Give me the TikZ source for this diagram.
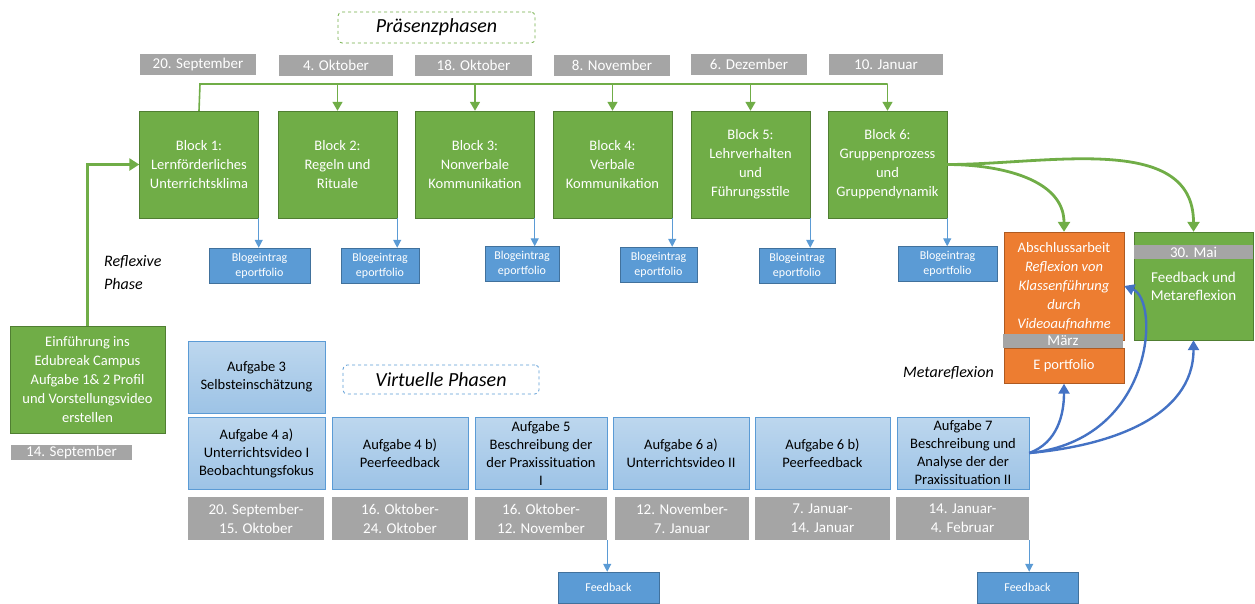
\documentclass[tikz,border=0pt]{standalone}
\usepackage{fontspec}
\setmainfont{Carlito}
\usetikzlibrary{arrows.meta}
\definecolor{grn}{HTML}{70AD47}
\definecolor{grndark}{HTML}{507E32}
\definecolor{blu}{HTML}{5B9BD5}
\definecolor{bludark}{HTML}{41719C}
\definecolor{gry}{HTML}{A5A5A5}
\definecolor{org}{HTML}{ED7D31}
\definecolor{orgdark}{HTML}{AE5A21}
\definecolor{royal}{HTML}{4472C4}
\definecolor{lblue}{HTML}{BDD7EE}
\definecolor{mblue}{HTML}{9DC3E6}

\begin{document}
\begin{tikzpicture}[x=1pt,y=-1pt,
		block/.style={rectangle,draw=grndark,fill=grn,text=white,align=center,inner sep=0pt,
			minimum width=119pt,minimum height=107pt,font=\fontsize{14.5}{19}\selectfont},
		date/.style={rectangle,fill=gry,text=white,align=center,inner sep=0pt,
			minimum height=21pt,font=\fontsize{15}{19}\selectfont},
		blog/.style={rectangle,draw=bludark,fill=blu,text=white,align=center,inner sep=0pt,
			minimum height=35pt,font=\fontsize{12}{15}\selectfont},
		task/.style={rectangle,draw=blu,top color=lblue,bottom color=mblue,align=center,inner sep=0pt,
			minimum height=72pt,font=\fontsize{14.5}{18}\selectfont},
		phase/.style={rectangle,rounded corners=4pt,dashed,thick,inner sep=0pt,
			font=\fontsize{20}{24}\selectfont\itshape},
		note/.style={align=left,inner sep=0pt,font=\fontsize{16}{23}\selectfont\itshape},
		orange node/.style={rectangle,draw=orgdark,fill=org,text=white,align=center,inner sep=0pt,
			minimum width=120pt,font=\fontsize{14.5}{19}\selectfont},
		busline/.style={draw=grn,line width=1.6pt,>={Triangle[length=9pt,width=10pt]}},
		blueline/.style={draw=blu,line width=1.2pt,>={Triangle[length=8pt,width=8pt]}},
		thickgreen/.style={draw=grn,line width=2.8pt,>={Triangle[length=10pt,width=12pt]}},
		royalline/.style={draw=royal,line width=2.4pt,>={Triangle[length=10pt,width=11pt]}}]

	\useasboundingbox (0,0) rectangle (1255,603);

	\node[phase,draw=grn,minimum width=197pt,minimum height=31pt] (pp) at (436.5,27.5) {Präsenzphasen};

	\node[date,minimum width=116pt] (d1) at (198,64.5) {20. September};
	\node[date,minimum width=114pt] (d2) at (336,65) {4. Oktober};
	\node[date,minimum width=117pt] (d3) at (473.5,65) {18. Oktober};
	\node[date,minimum width=116pt] (d4) at (612,65) {8. November};
	\node[date,minimum width=116pt] (d5) at (749,64.5) {6. Dezember};
	\node[date,minimum width=114pt] (d6) at (886,64.5) {10. Januar};

	\node[block] (b1) at (199,164.5) {Block 1:\\Lernförderliches\\Unterrichtsklima};
	\node[block] (b2) at (337.5,164.5) {Block 2:\\Regeln und\\Rituale};
	\node[block] (b3) at (475,164.5) {Block 3:\\Nonverbale\\Kommunikation};
	\node[block] (b4) at (612.5,164.5) {Block 4:\\Verbale\\Kommunikation};
	\node[block] (b5) at (750.5,164.5) {Block 5:\\Lehrverhalten\\und\\Führungsstile};
	\node[block] (b6) at (887.5,164.5) {Block 6:\\Gruppenprozess\\und\\Gruppendynamik};

	\node[blog,minimum width=101pt] (g1) at (259.5,265.5) {Blogeintrag\\eportfolio};
	\node[blog,minimum width=78pt] (g2) at (380,265.5) {Blogeintrag\\eportfolio};
	\node[blog,minimum width=74pt] (g3) at (522,264) {Blogeintrag\\eportfolio};
	\node[blog,minimum width=77pt] (g4) at (658.5,264.5) {Blogeintrag\\eportfolio};
	\node[blog,minimum width=76pt] (g5) at (797,265.5) {Blogeintrag\\eportfolio};
	\node[blog,minimum width=99pt] (g6) at (947.5,264) {Blogeintrag\\eportfolio};

	\node[note,anchor=west] (rp) at (104,273) {Reflexive\\Phase};

	\node[block,minimum width=155pt,minimum height=107pt,font=\fontsize{14.5}{18.8}\selectfont] (ein) at (87.5,379.5)
		{Einführung ins\\Edubreak Campus\\Aufgabe 1\& 2 Profil\\und Vorstellungsvideo\\erstellen};
	\node[date,minimum width=121pt,minimum height=15pt] (d0) at (71.5,452.5) {14. September};

	\node[task,minimum width=137pt] (a3) at (256.5,377) {Aufgabe 3\\Selbsteinschätzung};
	\node[phase,draw=blu,minimum width=196pt,minimum height=29pt] (vp) at (441,379.5) {Virtuelle Phasen};

	\node[task,minimum width=137pt] (a4a) at (256.5,453) {Aufgabe 4 a)\\Unterrichtsvideo I\\Beobachtungsfokus};
	\node[task,minimum width=136pt] (a4b) at (400,453) {Aufgabe 4 b)\\Peerfeedback};
	\node[task,minimum width=132pt] (a5) at (541,453) {Aufgabe 5\\Beschreibung der\\der Praxissituation\\I};
	\node[task,minimum width=136pt] (a6a) at (681,453) {Aufgabe 6 a)\\Unterrichtsvideo II};
	\node[task,minimum width=135pt] (a6b) at (822.5,453) {Aufgabe 6 b)\\Peerfeedback};
	\node[task,minimum width=132pt] (a7) at (963,453) {Aufgabe 7\\Beschreibung und\\Analyse der der\\Praxissituation II};

	\node[date,minimum width=136pt,minimum height=43pt] (t1) at (256,518.5) {20. September-\\15. Oktober};
	\node[date,minimum width=136pt,minimum height=43pt] (t2) at (400,518.5) {16. Oktober-\\24. Oktober};
	\node[date,minimum width=132pt,minimum height=43pt] (t3) at (541,518.5) {16. Oktober-\\12. November};
	\node[date,minimum width=134pt,minimum height=43pt] (t4) at (682,518.5) {12. November-\\7. Januar};
	\node[date,minimum width=135pt,minimum height=43pt] (t5) at (822.5,518.5) {7. Januar-\\14. Januar};
	\node[date,minimum width=133pt,minimum height=43pt] (t6) at (962.5,518.5) {14. Januar-\\4. Februar};

	\node[blog,minimum width=101pt,minimum height=31pt] (f1) at (608.5,587.5) {Feedback};
	\node[blog,minimum width=101pt,minimum height=31pt] (f2) at (1027.5,587.5) {Feedback};

	\node[orange node,minimum height=108pt] (ab) at (1064,286)
		{Abschlussarbeit\\\itshape Reflexion von\\\itshape Klassenführung\\\itshape durch\\\itshape Videoaufnahme};
	\node[date,minimum width=120pt,minimum height=14pt] (mz) at (1063,341) {März};
	\node[orange node,minimum height=35pt] (ep) at (1064,366) {E portfolio};
	\node[note,anchor=west] (mr) at (903,373) {Metareflexion};

	\node[block,minimum width=119pt,minimum height=108pt,font=\fontsize{15}{18}\selectfont] (fm) at (1193.5,286)
		{Feedback und\\Metareflexion};
	\node[date,minimum width=119pt,minimum height=14pt] (mai) at (1193.5,252) {30. Mai};

	\coordinate (bus) at (200,84);
	\draw[busline] (b1.north) -- (bus) -- (b6.north |- bus);
	\path[every edge/.style={draw,busline,->}]
		(b2.north |- bus) edge (b2.north)
		(b3.north |- bus) edge (b3.north)
		(b4.north |- bus) edge (b4.north)
		(b5.north |- bus) edge (b5.north)
		(b6.north |- bus) edge (b6.north);

	\path[every edge/.style={draw,blueline,->}]
		(b1.south east) edge (b1.south east |- g1.north)
		(b2.south east) edge (b2.south east |- g2.north)
		(b3.south east) edge (b3.south east |- g3.north)
		(b4.south east) edge (b4.south east |- g4.north)
		(b5.south east) edge (b5.south east |- g5.north)
		(b6.south east) edge (b6.south east |- g6.north)
		(t3.south east) edge (t3.south east |- f1.north)
		(t6.south east) edge (t6.south east |- f2.north);

	\draw[thickgreen,->] (ein.north) |- (b1.west);
	\draw[thickgreen,->] (b6.east) to[out=0,in=90] (ab.north);
	\draw[thickgreen,->] (b6.east) to[out=0,in=90] (fm.north);

	\draw[royalline,->] (a7.east) to[out=20,in=-90] (ep.south);
	\draw[royalline,->] (a7.east) .. controls (1155,440) and (1160,300) .. (ab.east);
	\draw[royalline,->] (a7.east) to[out=5,in=-90] (fm.south);
\end{tikzpicture}
\end{document}
